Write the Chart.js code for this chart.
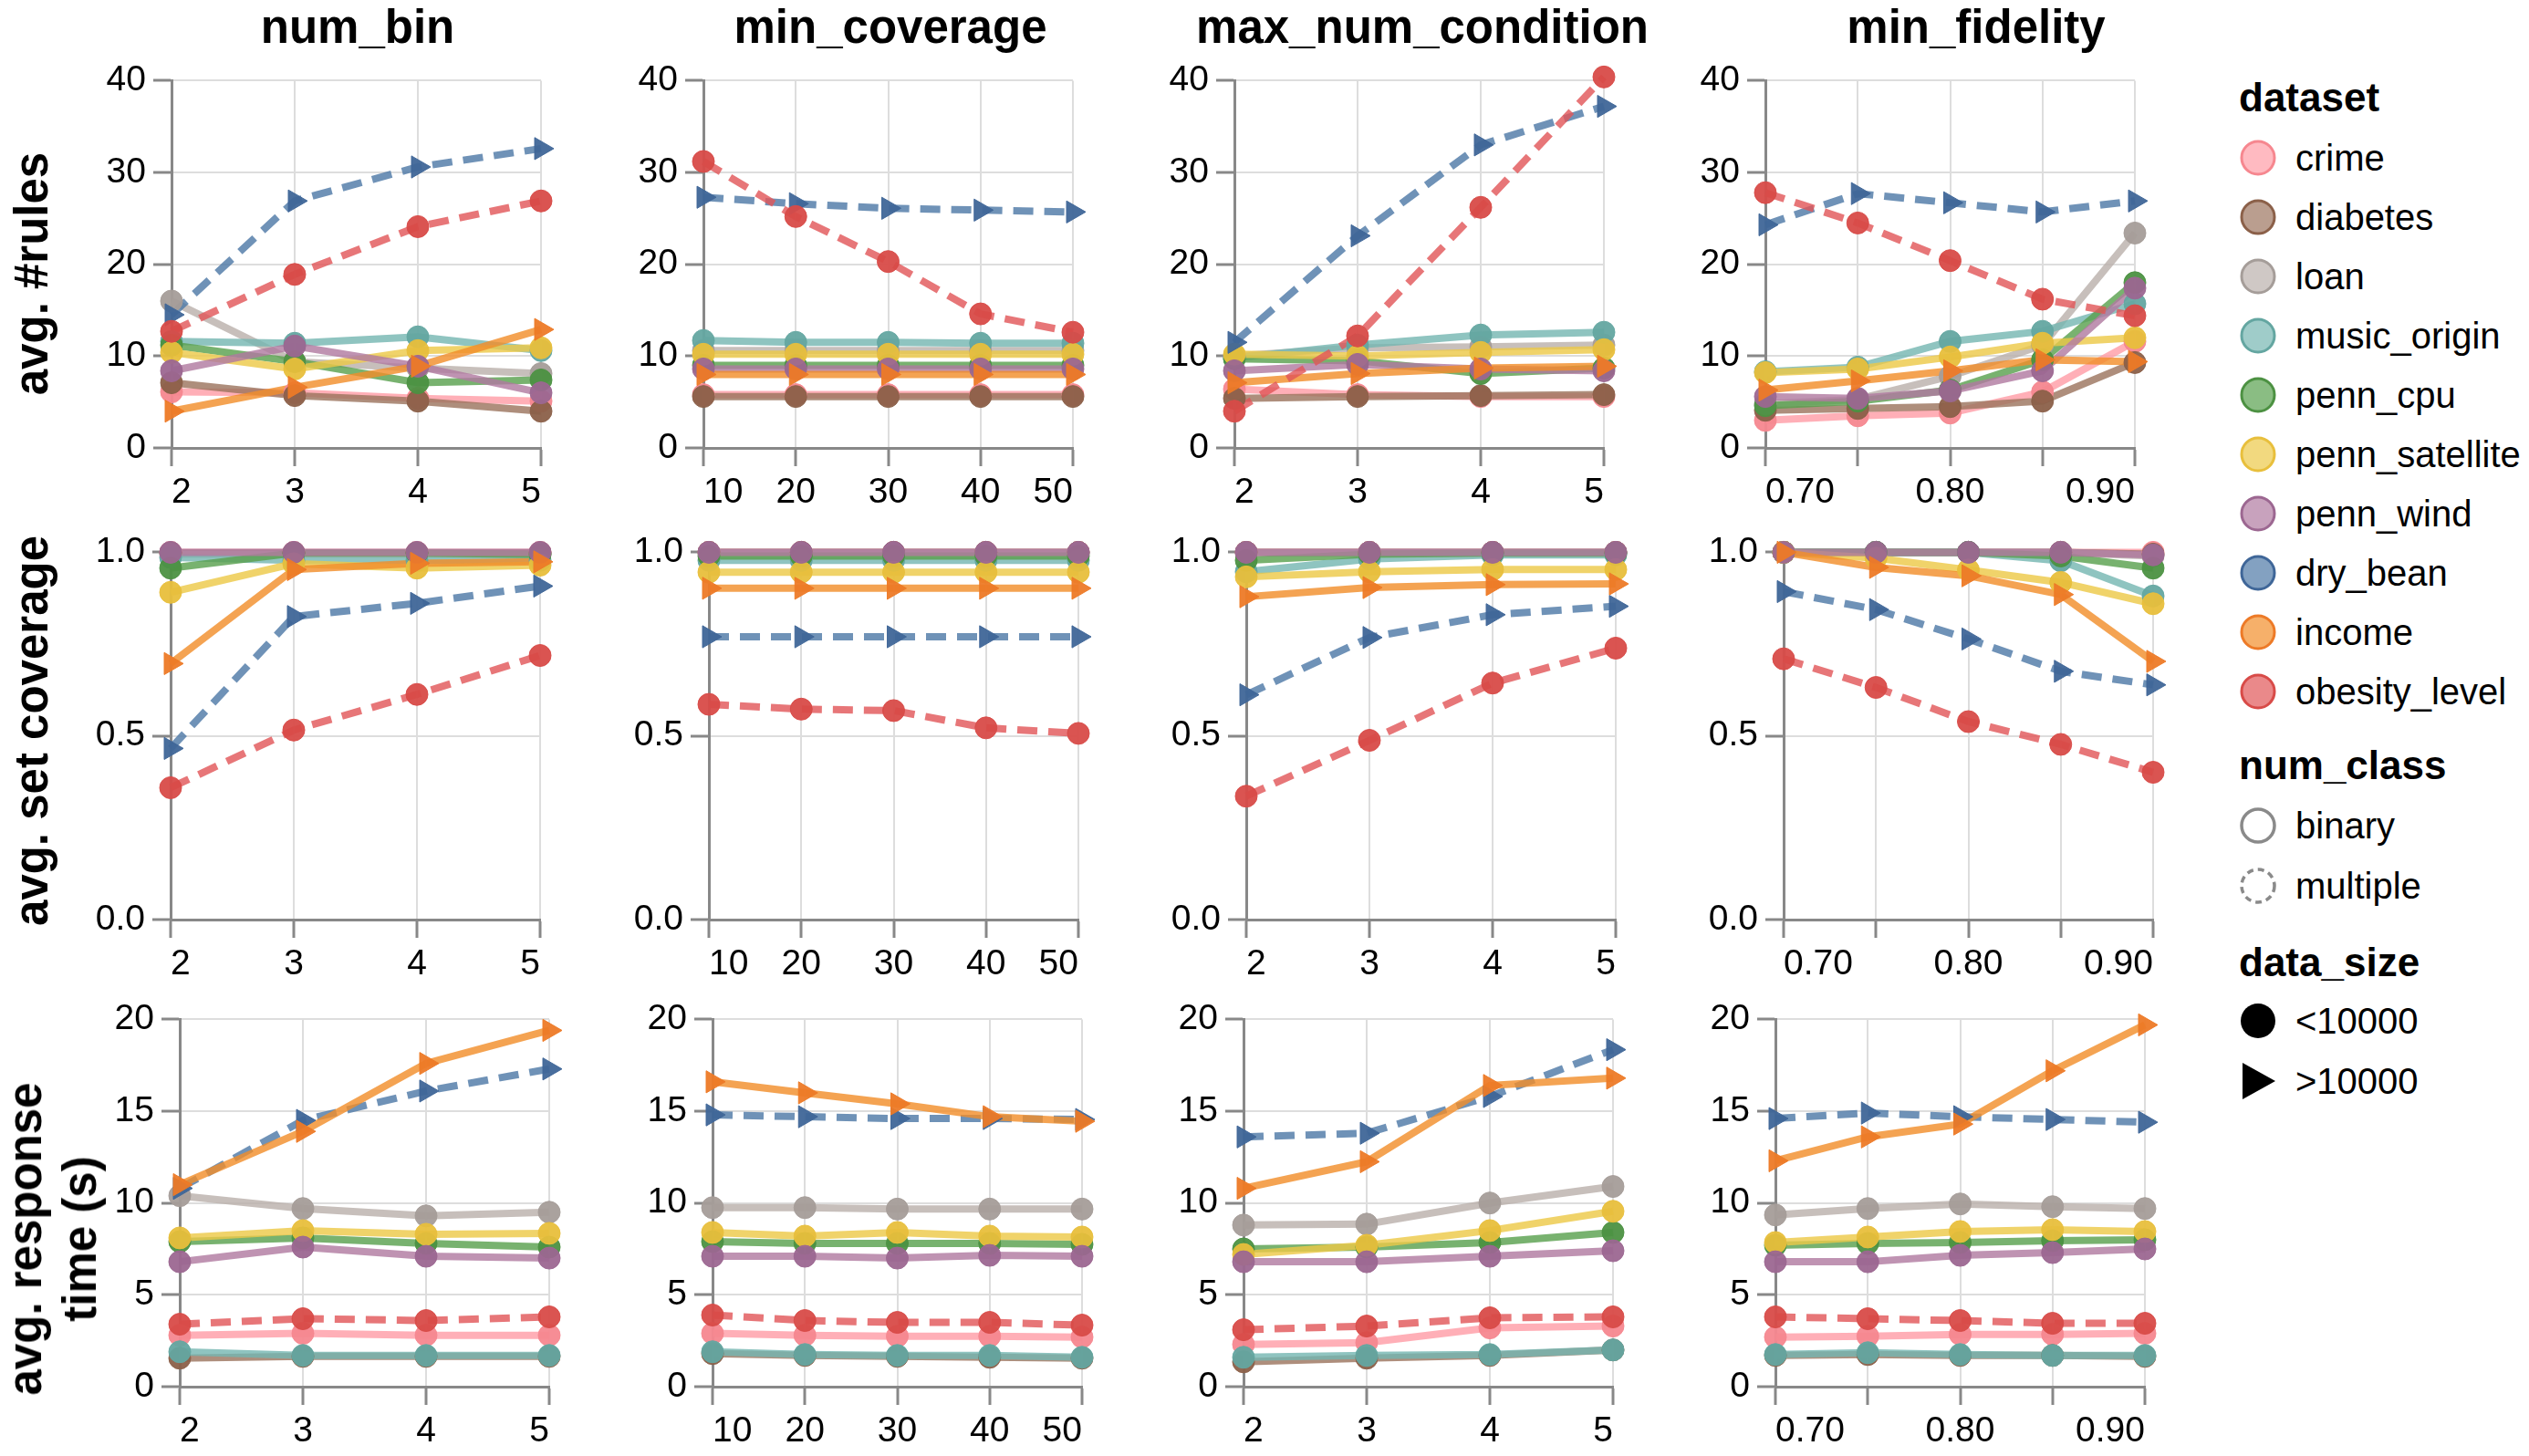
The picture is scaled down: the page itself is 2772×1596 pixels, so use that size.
<!DOCTYPE html>
<html>
<head>
<meta charset="utf-8">
<script src="https://cdn.jsdelivr.net/npm/chart.js@4.4.1/dist/chart.umd.min.js"></script>
<style>
  body { margin: 0; background: #fff; width: 2772px; height: 1596px; position: relative; overflow: hidden;
         font-family: "Liberation Sans", Arial, Helvetica, sans-serif; color: #000; }
  canvas { position: absolute; }
  .coltitle { position: absolute; top: 0; width: 800px; height: 60px; line-height: 60px; text-align: center;
              font-weight: bold; font-size: 51px; white-space: nowrap; }
  .rowtitle { position: absolute; font-weight: bold; font-size: 51px; line-height: 60px; text-align: center;
              white-space: nowrap; transform: translate(-50%, -50%) rotate(-90deg); }
  #legend { position: absolute; left: 0; top: 0; }
</style>
</head>
<body>
<svg id="legend" width="2772" height="1596"></svg>
<script>
// ---- data ----
const datasetNames = ['crime', 'diabetes', 'loan', 'music_origin', 'penn_cpu', 'penn_satellite', 'penn_wind', 'dry_bean', 'income', 'obesity_level'];
const numClass = ['binary', 'binary', 'binary', 'binary', 'binary', 'binary', 'binary', 'multiple', 'binary', 'multiple'];
const dataSize = ['<10000', '<10000', '<10000', '<10000', '<10000', '<10000', '<10000', '>10000', '>10000', '<10000'];

const paramNames = ['num_bin', 'min_coverage', 'max_num_condition', 'min_fidelity'];
const metricNames = [['avg. #rules'], ['avg. set coverage'], ['avg. response', 'time (s)']];

const numBin = [2, 3, 4, 5];
const minCoverage = [10, 20, 30, 40, 50];
const maxNumCondition = [2, 3, 4, 5];
const minFidelity = [0.70, 0.75, 0.80, 0.85, 0.90];

// one row per dataset, in datasetNames order
const rulesNumBin = [
  [6.1, 6.0, 5.4, 5.1],
  [7.1, 5.7, 5.1, 4.0],
  [16.0, 9.4, 8.7, 8.1],
  [11.6, 11.4, 12.1, 10.6],
  [11.2, 9.4, 7.1, 7.4],
  [10.4, 8.6, 10.6, 10.9],
  [8.4, 11.1, 8.9, 6.0],
  [14.5, 26.9, 30.6, 32.6],
  [4.0, 6.6, 8.9, 12.9],
  [12.7, 18.9, 24.1, 26.9]
];
const rulesMinCoverage = [
  [5.8, 5.8, 5.8, 5.8, 5.8],
  [5.6, 5.6, 5.6, 5.6, 5.6],
  [10.6, 10.6, 10.6, 10.6, 10.6],
  [11.7, 11.5, 11.5, 11.4, 11.4],
  [9.0, 9.0, 9.0, 9.0, 9.0],
  [10.2, 10.2, 10.2, 10.2, 10.2],
  [8.6, 8.6, 8.6, 8.6, 8.6],
  [27.3, 26.6, 26.1, 25.9, 25.7],
  [8.0, 8.0, 8.0, 8.0, 8.0],
  [31.2, 25.2, 20.3, 14.6, 12.6]
];
const rulesMaxCondition = [
  [6.4, 5.8, 5.6, 5.6],
  [5.4, 5.6, 5.7, 5.8],
  [10.0, 10.9, 11.0, 11.2],
  [9.8, 11.2, 12.3, 12.6],
  [9.7, 9.5, 8.1, 8.7],
  [10.2, 10.0, 10.4, 10.7],
  [8.4, 9.1, 8.6, 8.4],
  [11.5, 23.1, 33.0, 37.2],
  [7.1, 8.1, 8.7, 8.9],
  [4.0, 12.2, 26.2, 40.4]
];
const rulesMinFidelity = [
  [3.0, 3.5, 3.8, 6.1, 11.6],
  [4.1, 4.3, 4.5, 5.1, 9.3],
  [4.8, 5.3, 7.8, 11.2, 23.4],
  [8.3, 8.8, 11.6, 12.7, 15.7],
  [4.6, 5.1, 6.3, 9.6, 18.0],
  [8.2, 8.6, 9.9, 11.4, 12.0],
  [5.6, 5.4, 6.2, 8.4, 17.4],
  [24.3, 27.7, 26.7, 25.7, 26.9],
  [6.3, 7.3, 8.4, 9.6, 9.4],
  [27.8, 24.5, 20.4, 16.2, 14.4]
];

const coverageNumBin = [
  [1.0, 1.0, 1.0, 1.0],
  [0.998, 0.998, 0.998, 0.998],
  [0.995, 0.995, 0.995, 0.995],
  [0.986, 0.978, 0.978, 0.978],
  [0.957, 0.998, 0.998, 0.994],
  [0.891, 0.969, 0.957, 0.965],
  [1.0, 1.0, 1.0, 1.0],
  [0.466, 0.825, 0.861, 0.908],
  [0.697, 0.953, 0.970, 0.974],
  [0.359, 0.516, 0.613, 0.719]
];
const coverageMinCoverage = [
  [1.0, 1.0, 1.0, 1.0, 1.0],
  [1.0, 1.0, 1.0, 1.0, 1.0],
  [0.998, 0.998, 0.998, 0.998, 0.998],
  [0.978, 0.978, 0.978, 0.978, 0.978],
  [0.990, 0.990, 0.990, 0.990, 0.990],
  [0.946, 0.946, 0.946, 0.946, 0.946],
  [1.0, 1.0, 1.0, 1.0, 1.0],
  [0.770, 0.770, 0.770, 0.770, 0.770],
  [0.902, 0.902, 0.902, 0.902, 0.902],
  [0.586, 0.573, 0.569, 0.522, 0.507]
];
const coverageMaxCondition = [
  [1.0, 1.0, 1.0, 1.0],
  [1.0, 1.0, 1.0, 1.0],
  [0.998, 0.998, 0.998, 0.998],
  [0.947, 0.982, 0.993, 0.993],
  [0.978, 0.995, 0.998, 0.998],
  [0.933, 0.947, 0.953, 0.953],
  [1.0, 1.0, 1.0, 1.0],
  [0.612, 0.768, 0.830, 0.853],
  [0.879, 0.904, 0.912, 0.914],
  [0.336, 0.488, 0.644, 0.739]
];
const coverageMinFidelity = [
  [1.0, 1.0, 1.0, 1.0, 1.0],
  [1.0, 1.0, 1.0, 1.0, 0.995],
  [1.0, 1.0, 1.0, 1.0, 0.990],
  [1.0, 1.0, 1.0, 0.977, 0.881],
  [1.0, 1.0, 1.0, 0.990, 0.957],
  [1.0, 0.984, 0.952, 0.918, 0.860],
  [1.0, 1.0, 1.0, 1.0, 0.993],
  [0.893, 0.844, 0.764, 0.676, 0.639],
  [1.0, 0.959, 0.936, 0.885, 0.703],
  [0.710, 0.632, 0.539, 0.477, 0.401]
];

const timeNumBin = [
  [2.8, 2.9, 2.8, 2.8],
  [1.55, 1.65, 1.65, 1.65],
  [10.4, 9.7, 9.3, 9.5],
  [1.9, 1.7, 1.7, 1.7],
  [7.9, 8.1, 7.8, 7.6],
  [8.1, 8.5, 8.3, 8.35],
  [6.8, 7.6, 7.1, 7.0],
  [10.8, 14.5, 16.1, 17.3],
  [11.0, 13.9, 17.6, 19.4],
  [3.4, 3.7, 3.6, 3.8]
];
const timeMinCoverage = [
  [2.9, 2.8, 2.75, 2.75, 2.7],
  [1.8, 1.7, 1.65, 1.6, 1.55],
  [9.75, 9.75, 9.67, 9.67, 9.67],
  [1.9, 1.75, 1.7, 1.7, 1.6],
  [7.9, 7.8, 7.8, 7.8, 7.75],
  [8.4, 8.2, 8.4, 8.2, 8.15],
  [7.1, 7.1, 7.0, 7.15, 7.1],
  [14.8, 14.7, 14.6, 14.6, 14.55],
  [16.6, 16.0, 15.4, 14.7, 14.45],
  [3.9, 3.6, 3.5, 3.5, 3.35]
];
const timeMaxCondition = [
  [2.3, 2.4, 3.2, 3.3],
  [1.35, 1.55, 1.7, 2.0],
  [8.8, 8.85, 10.0, 10.9],
  [1.6, 1.7, 1.75, 2.0],
  [7.5, 7.6, 7.85, 8.4],
  [7.2, 7.7, 8.5, 9.55],
  [6.8, 6.8, 7.1, 7.4],
  [13.6, 13.8, 15.8, 18.35],
  [10.8, 12.25, 16.4, 16.8],
  [3.1, 3.3, 3.75, 3.8]
];
const timeMinFidelity = [
  [2.7, 2.75, 2.85, 2.85, 2.9],
  [1.7, 1.75, 1.7, 1.7, 1.65],
  [9.35, 9.7, 9.95, 9.8, 9.7],
  [1.75, 1.85, 1.75, 1.7, 1.7],
  [7.7, 7.8, 7.85, 7.95, 8.0],
  [7.85, 8.15, 8.45, 8.55, 8.45],
  [6.8, 6.8, 7.15, 7.3, 7.5],
  [14.6, 14.9, 14.7, 14.55, 14.4],
  [12.3, 13.6, 14.3, 17.2, 19.7],
  [3.8, 3.7, 3.6, 3.45, 3.45]
];

const xValues = [numBin, minCoverage, maxNumCondition, minFidelity];
const panelData = [
  [rulesNumBin, rulesMinCoverage, rulesMaxCondition, rulesMinFidelity],
  [coverageNumBin, coverageMinCoverage, coverageMaxCondition, coverageMinFidelity],
  [timeNumBin, timeMinCoverage, timeMaxCondition, timeMinFidelity]
];

// ---- styles ----
const baseColors = ['#ff9da7', '#9c755f', '#bab0ac', '#76b7b2', '#59a14f', '#edc948', '#b07aa1', '#4e79a7', '#f28e2b', '#e15759'];
const pointColors = ['#f6878f', '#8b6049', '#a59d99', '#64a6a1', '#4c9142', '#e8bf3c', '#9c6791', '#3f6698', '#ed7a27', '#d84b48'];
const FONT = '"Liberation Sans", Arial, Helvetica, sans-serif';

const yAxes = [
  { min: 0, max: 40, step: 10, fmt: v => String(v) },
  { min: 0, max: 1, step: 0.5, fmt: v => Number(v).toFixed(1) },
  { min: 0, max: 20, step: 5, fmt: v => String(v) }
];
const xAxes = [
  { min: 2, max: 5, step: 1, fmt: v => String(v) },
  { min: 10, max: 50, step: 10, fmt: v => String(v) },
  { min: 2, max: 5, step: 1, fmt: v => String(v) },
  { min: 0.7, max: 0.9, step: 0.05, fmt: v => (Math.round(v * 100) % 10 === 0 ? Number(v).toFixed(2) : '') }
];

// ---- layout (page pixels) ----
const PW = 405, PH = 404, AX = 110, AY = 80, PT = 30, PR = 30;
const rowTops = [87, 604, 1116];
const colLefts = [
  [188, 771, 1353, 1935],
  [187, 777, 1366, 1955],
  [197, 781, 1363, 1946]
];
const colTitleCenters = [392, 976, 1559, 2166];
const rowTitlePos = [[35, 300], [35, 801], [58, 1358]];

function makePanel(r, c) {
  const left = colLefts[r][c], top = rowTops[r];
  const canvas = document.createElement('canvas');
  canvas.width = AX + PW + PR;
  canvas.height = PT + PH + AY;
  canvas.style.left = (left - AX) + 'px';
  canvas.style.top = (top - PT) + 'px';
  document.body.appendChild(canvas);

  const xs = xValues[c];
  const rows = panelData[r][c];
  const datasets = [];
  rows.forEach((vals, i) => {
    const pts = xs.map((x, j) => ({ x, y: vals[j] }));
    const dashed = numClass[i] === 'multiple';
    const tri = dataSize[i] === '>10000';
    datasets.push({
      data: pts,
      borderColor: baseColors[i] + 'd0',
      borderWidth: 8,
      borderDash: dashed ? [22, 12] : [],
      pointRadius: 0,
      tension: 0,
      fill: false,
      clip: false,
      order: 20 - i
    });
    datasets.push({
      data: pts,
      showLine: false,
      pointStyle: tri ? 'triangle' : 'circle',
      pointRotation: tri ? 90 : 0,
      pointRadius: tri ? 14 : 12,
      pointBackgroundColor: pointColors[i] + 'f2',
      pointBorderColor: pointColors[i] + 'f2',
      pointBorderWidth: 1,
      clip: false,
      order: 10 - i
    });
  });

  const ya = yAxes[r], xa = xAxes[c];
  const gridStyle = { color: '#dddddd', lineWidth: 2, tickColor: '#888888', tickLength: 20, tickWidth: 3 };
  new Chart(canvas, {
    type: 'line',
    data: { datasets },
    options: {
      responsive: false,
      animation: false,
      devicePixelRatio: 1,
      layout: { padding: { top: PT, right: PR, left: 0, bottom: 0 } },
      plugins: { legend: { display: false }, tooltip: { enabled: false } },
      scales: {
        x: {
          type: 'linear',
          min: xa.min, max: xa.max,
          grid: gridStyle,
          border: { color: '#888888', width: 3 },
          ticks: {
            stepSize: xa.step, autoSkip: false, maxRotation: 0, align: 'inner', padding: 6,
            color: '#000', font: { family: FONT, size: 39 },
            callback: v => xa.fmt(v)
          },
          afterFit: s => { s.height = AY; }
        },
        y: {
          min: ya.min, max: ya.max,
          grid: gridStyle,
          border: { color: '#888888', width: 3 },
          ticks: {
            stepSize: ya.step, padding: 8,
            color: '#000', font: { family: FONT, size: 39 },
            callback: v => ya.fmt(v)
          },
          afterFit: s => { s.width = AX; }
        }
      }
    }
  });
}

for (let r = 0; r < 3; r++) {
  for (let c = 0; c < 4; c++) makePanel(r, c);
}

// titles
paramNames.forEach((name, c) => {
  const d = document.createElement('div');
  d.className = 'coltitle';
  d.style.left = (colTitleCenters[c] - 400) + 'px';
  d.textContent = name;
  document.body.appendChild(d);
});
metricNames.forEach((lines, r) => {
  const d = document.createElement('div');
  d.className = 'rowtitle';
  d.style.left = rowTitlePos[r][0] + 'px';
  d.style.top = rowTitlePos[r][1] + 'px';
  d.innerHTML = lines.join('<br>');
  document.body.appendChild(d);
});

// legend
const svg = document.getElementById('legend');
const NS = 'http://www.w3.org/2000/svg';
function el(tag, attrs, text) {
  const e = document.createElementNS(NS, tag);
  for (const k in attrs) e.setAttribute(k, attrs[k]);
  if (text) e.textContent = text;
  svg.appendChild(e);
  return e;
}
const LX = 2475, LT = 2516, TX = 2454, STEP = 65;
function legendTitle(text, y) {
  el('text', { x: TX, y, 'font-family': FONT, 'font-size': 44, 'font-weight': 'bold', 'dominant-baseline': 'central' }, text);
}
function legendLabel(text, y) {
  el('text', { x: LT, y, 'font-family': FONT, 'font-size': 40, 'dominant-baseline': 'central' }, text);
}
legendTitle('dataset', 106);
datasetNames.forEach((name, i) => {
  const y = 173 + i * STEP;
  el('circle', { cx: LX, cy: y, r: 18, fill: baseColors[i], 'fill-opacity': 0.7, stroke: pointColors[i], 'stroke-width': 3 });
  legendLabel(name, y);
});
legendTitle('num_class', 838);
['binary', 'multiple'].forEach((name, i) => {
  const y = 905 + i * 66;
  el('circle', { cx: LX, cy: y, r: 18, fill: 'none', stroke: '#8a8a8a', 'stroke-width': 3.5,
                 'stroke-dasharray': name === 'multiple' ? '7 5' : 'none' });
  legendLabel(name, y);
});
legendTitle('data_size', 1054);
['<10000', '>10000'].forEach((name, i) => {
  const y = 1119 + i * 66;
  if (name === '<10000') {
    el('circle', { cx: LX, cy: y, r: 19, fill: '#000' });
  } else {
    el('path', { d: `M ${LX - 17} ${y - 20} L ${LX + 19} ${y} L ${LX - 17} ${y + 20} Z`, fill: '#000' });
  }
  legendLabel(name, y);
});
</script>
</body>
</html>
